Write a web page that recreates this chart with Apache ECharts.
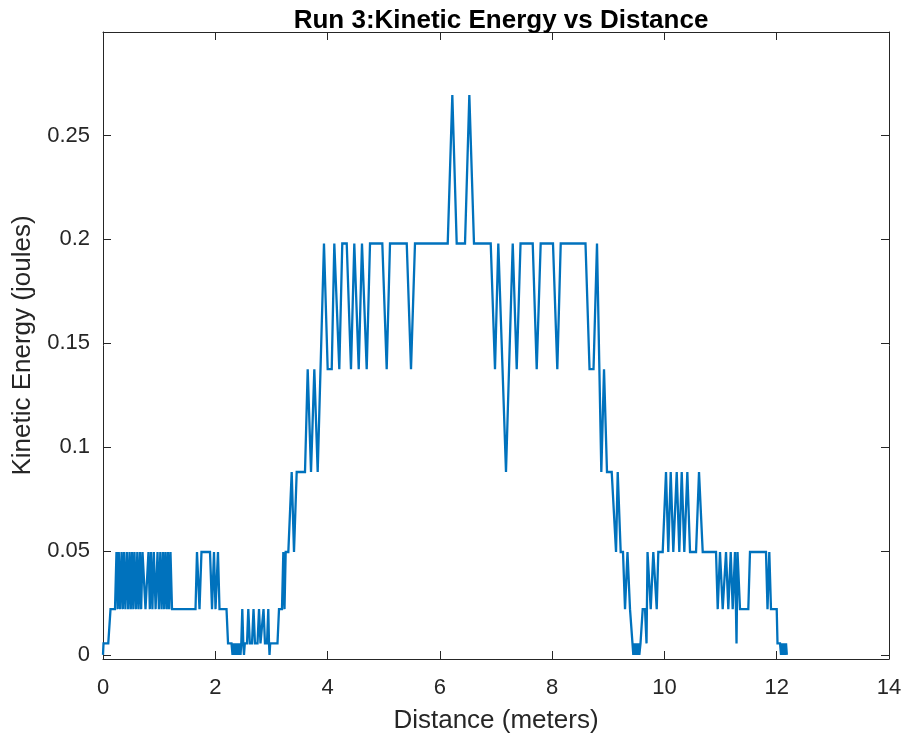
<!DOCTYPE html>
<html>
<head>
<meta charset="utf-8">
<script src="https://cdn.jsdelivr.net/npm/echarts@6/dist/echarts.min.js"></script>
<style>
html,body{margin:0;padding:0;background:#fff;}
#chart{width:909px;height:741px;}
</style>
</head>
<body>
<div id="chart"></div>
<script>
// Distance (meters) of each sample
const distance = [
 0.000, 0.009, 0.094, 0.134, 0.214,
 0.240, 0.262, 0.281, 0.306, 0.330, 0.353, 0.374, 0.399, 0.424, 0.449,
 0.472, 0.495, 0.517, 0.540, 0.561, 0.588, 0.611, 0.634, 0.659, 0.680,
 0.704, 0.757, 0.810, 0.834, 0.855, 0.880, 0.905, 0.937, 0.971, 0.996,
 1.021, 1.044, 1.069, 1.090, 1.113, 1.136, 1.158, 1.179, 1.202, 1.229,
 1.648, 1.674, 1.719, 1.754, 1.906, 1.942, 1.977, 2.004, 2.048, 2.075,
 2.200, 2.227, 2.289, 2.307, 2.324, 2.342, 2.360, 2.378, 2.396, 2.414,
 2.431, 2.449, 2.463, 2.481, 2.499, 2.511, 2.526, 2.565, 2.588, 2.615,
 2.654, 2.681, 2.707, 2.752, 2.779, 2.805, 2.832, 2.859, 2.885, 2.921,
 2.944, 2.957, 2.966, 2.978, 3.108, 3.135, 3.188, 3.212, 3.233, 3.254,
 3.301, 3.361, 3.402, 3.450, 3.598, 3.646, 3.705, 3.764, 3.824, 3.936,
 4.002, 4.074, 4.120, 4.209, 4.262, 4.341, 4.417, 4.476, 4.555, 4.613,
 4.697, 4.756, 4.975, 5.053, 5.112, 5.410, 5.486, 5.557, 6.140, 6.222,
 6.300, 6.448, 6.525, 6.608, 6.906, 6.982, 7.041, 7.178, 7.298, 7.369,
 7.437, 7.654, 7.725, 7.796, 8.015, 8.092, 8.153, 8.594, 8.666, 8.737,
 8.799, 8.876, 8.924, 8.977, 9.061, 9.138, 9.168, 9.221, 9.262, 9.298,
 9.342, 9.387, 9.414, 9.431, 9.446, 9.464, 9.481, 9.499, 9.517, 9.535,
 9.553, 9.574, 9.613, 9.654, 9.681, 9.699, 9.756, 9.802, 9.863, 9.891,
 9.969, 10.028, 10.069, 10.112, 10.158, 10.219, 10.265, 10.308, 10.354, 10.408,
 10.456, 10.563, 10.616, 10.682, 10.919, 10.949, 10.990, 11.038, 11.097, 11.138,
 11.181, 11.216, 11.257, 11.284, 11.302, 11.346, 11.494, 11.524, 11.809, 11.836,
 11.868, 11.898, 12.000, 12.014, 12.059, 12.077, 12.094, 12.112, 12.130, 12.148,
 12.166, 12.180
];
// Kinetic energy (joules) of each sample
const kineticEnergy = [
 0, 0.0055, 0.0055, 0.022, 0.022,
 0.0495, 0.022, 0.0495, 0.022, 0.0495, 0.022, 0.0495, 0.022, 0.0495, 0.022,
 0.0495, 0.022, 0.0495, 0.022, 0.0495, 0.022, 0.0495, 0.022, 0.0495, 0.022,
 0.0495, 0.022, 0.0495, 0.022, 0.0495, 0.022, 0.0495, 0.022, 0.0495, 0.022,
 0.0495, 0.022, 0.0495, 0.022, 0.0495, 0.022, 0.0495, 0.022, 0.0495, 0.022,
 0.022, 0.0495, 0.022, 0.0495, 0.0495, 0.022, 0.0495, 0.022, 0.0495, 0.022,
 0.022, 0.0055, 0.0055, 0, 0.0055, 0, 0.0055, 0, 0.0055, 0,
 0.0055, 0, 0.0055, 0.022, 0.0055, 0, 0.0055, 0.0055, 0.022, 0.0055,
 0.0055, 0.022, 0.0055, 0.0055, 0.022, 0.0055, 0.0055, 0.022, 0.0055, 0.0055,
 0.022, 0.0055, 0, 0.0055, 0.0055, 0.022, 0.022, 0.0495, 0.022, 0.0495,
 0.0495, 0.088, 0.0495, 0.088, 0.088, 0.1375, 0.088, 0.1375, 0.088, 0.198,
 0.1375, 0.1375, 0.198, 0.1375, 0.198, 0.198, 0.1375, 0.198, 0.1375, 0.198,
 0.1375, 0.198, 0.198, 0.1375, 0.198, 0.198, 0.1375, 0.198, 0.198, 0.2695,
 0.198, 0.198, 0.2695, 0.198, 0.198, 0.1375, 0.198, 0.088, 0.198, 0.1375,
 0.198, 0.198, 0.1375, 0.198, 0.198, 0.1375, 0.198, 0.198, 0.1375, 0.1375,
 0.198, 0.088, 0.1375, 0.088, 0.088, 0.0495, 0.088, 0.0495, 0.0495, 0.022,
 0.0495, 0.022, 0.022, 0.0055, 0, 0.0055, 0, 0.0055, 0, 0.0055,
 0, 0.0055, 0.022, 0.022, 0.0055, 0.0495, 0.022, 0.0495, 0.022, 0.0495,
 0.0495, 0.088, 0.0495, 0.088, 0.0495, 0.088, 0.0495, 0.088, 0.0495, 0.088,
 0.0495, 0.0495, 0.088, 0.0495, 0.0495, 0.022, 0.0495, 0.022, 0.0495, 0.022,
 0.0495, 0.022, 0.0495, 0.0055, 0.0495, 0.022, 0.022, 0.0495, 0.0495, 0.022,
 0.0495, 0.022, 0.022, 0.0055, 0.0055, 0, 0.0055, 0, 0.0055, 0,
 0.0055, 0
];
const xTicks = [0, 2, 4, 6, 8, 10, 12, 14];
const yTicks = [0, 0.05, 0.1, 0.15, 0.2, 0.25];

const FONT = '"Liberation Sans", Arial, Helvetica, sans-serif';
const AX = '#262626';
const yMin = -0.002, yMax = 0.2998;

const chart = echarts.init(document.getElementById('chart'), null, {renderer: 'canvas'});
const seriesData = distance.map((d, i) => [d, kineticEnergy[i]]);

const tickStyle = {show: true, inside: true, length: 8, lineStyle: {color: AX, width: 1}};
chart.setOption({
  animation: false,
  backgroundColor: '#ffffff',
  title: {
    text: 'Run 3:Kinetic Energy vs Distance',
    left: 496, top: 3, textAlign: 'center',
    textStyle: {fontFamily: FONT, fontSize: 26, fontWeight: 'bold', color: '#000000'}
  },
  grid: {left: 103, right: 20, top: 32, bottom: 82, containLabel: false},
  xAxis: [{
    type: 'value', min: 0, max: 14, interval: 2, position: 'bottom',
    name: 'Distance (meters)', nameLocation: 'middle', nameGap: 49,
    nameTextStyle: {fontFamily: FONT, fontSize: 26, color: AX},
    axisLine: {show: true, onZero: false, lineStyle: {color: AX, width: 1}},
    axisTick: tickStyle,
    axisLabel: {show: true, margin: 18, fontFamily: FONT, fontSize: 22, color: AX,
      customValues: xTicks, formatter: v => String(v)},
    splitLine: {show: false}
  }, {
    type: 'value', min: 0, max: 14, interval: 2, position: 'top',
    axisLine: {show: true, onZero: false, lineStyle: {color: AX, width: 1}},
    axisTick: tickStyle, axisLabel: {show: false}, splitLine: {show: false}
  }],
  yAxis: [{
    type: 'value', min: yMin, max: yMax, position: 'left',
    name: 'Kinetic Energy (joules)', nameLocation: 'middle', nameGap: 64, nameRotate: 90,
    nameTextStyle: {fontFamily: FONT, fontSize: 26, color: AX},
    axisLine: {show: true, onZero: false, lineStyle: {color: AX, width: 1}},
    axisTick: Object.assign({}, tickStyle, {customValues: yTicks}),
    axisLabel: {show: true, margin: 13, fontFamily: FONT, fontSize: 22, color: AX,
      customValues: yTicks, formatter: v => String(v)},
    splitLine: {show: false}
  }, {
    type: 'value', min: yMin, max: yMax, position: 'right',
    axisLine: {show: true, onZero: false, lineStyle: {color: AX, width: 1}},
    axisTick: Object.assign({}, tickStyle, {customValues: yTicks}),
    axisLabel: {show: false}, splitLine: {show: false}
  }],
  series: [{
    type: 'line', xAxisIndex: 0, yAxisIndex: 0,
    data: seriesData, showSymbol: false, symbol: 'none',
    lineStyle: {color: '#0072BD', width: 2.3, join: 'miter'},
    clip: true
  }]
});
</script>
</body>
</html>
